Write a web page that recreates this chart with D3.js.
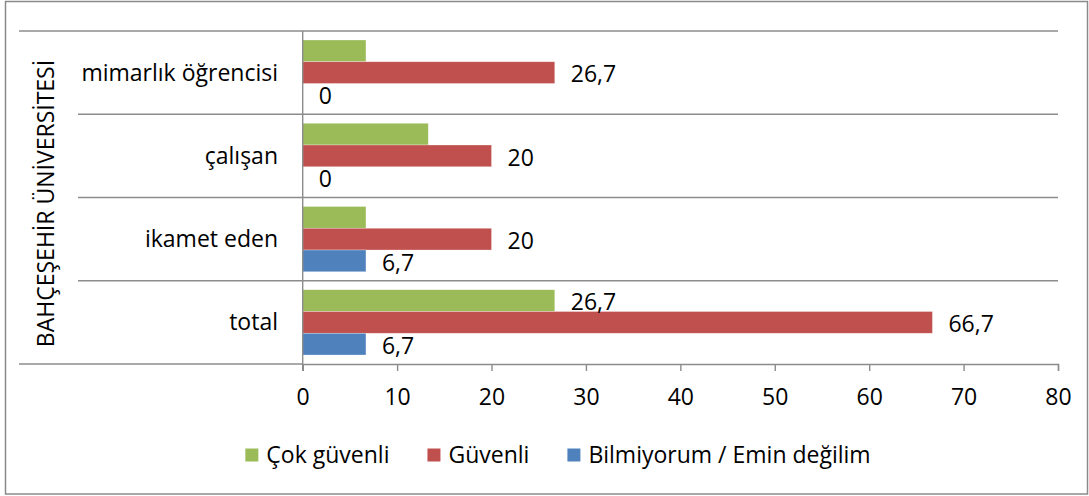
<!DOCTYPE html>
<html>
<head>
<meta charset="utf-8">
<script src="https://cdn.jsdelivr.net/npm/d3@7"></script>
<style>
  html, body { margin: 0; padding: 0; background: #fff; }
  svg { display: block; font-family: "Open Sans", "Noto Sans", sans-serif; }
</style>
</head>
<body>
<svg id="chart" width="1089" height="496"></svg>
<script>
// ---- data ----
const groupTitle = "BAHÇEŞEHİR ÜNİVERSİTESİ";
const categories = ["mimarlık öğrencisi", "çalışan", "ikamet eden", "total"];
const seriesNames = ["Çok güvenli", "Güvenli", "Bilmiyorum / Emin değilim"];
const cokGuvenli = [6.7, 13.3, 6.7, 26.7];
const guvenli = [26.7, 20, 20, 66.7];
const bilmiyorum = [0, 0, 6.7, 6.7];
const cokGuvenliLabelShown = [false, false, false, true];
const guvenliLabelShown = [true, true, true, true];
const bilmiyorumLabelShown = [true, true, true, true];
const xTicks = [0, 10, 20, 30, 40, 50, 60, 70, 80];

const seriesValues = [cokGuvenli, guvenli, bilmiyorum];
const seriesLabelShown = [cokGuvenliLabelShown, guvenliLabelShown, bilmiyorumLabelShown];
const colors = ["#9BBB59", "#C0504D", "#4F81BD"];

// ---- layout ----
const W = 1089, H = 496;
const plotLeft = 302.7, plotRight = 1058, plotTop = 31, plotBottom = 364;
const fontSize = 23;
const gridColor = "#8c8c8c";

const svg = d3.select("#chart");

// outer border
svg.append("rect")
  .attr("x", 5.5).attr("y", 1.5).attr("width", 1082).attr("height", 492.5)
  .attr("fill", "#fff").attr("stroke", "#8a8a8a").attr("stroke-width", 1.5);

const x = d3.scaleLinear().domain([0, 80]).range([plotLeft, plotRight]);
const y = d3.scaleBand().domain(categories).range([plotTop, plotBottom]).paddingInner(0).paddingOuter(0);
const bw = y.bandwidth();
const ySub = d3.scaleBand().domain(seriesNames).range([bw * 0.108, bw * 0.892]).padding(0);

// category separators
const sepG = svg.append("g");
categories.forEach((c, i) => {
  const yy = y(c);
  sepG.append("line")
    .attr("x1", i === 0 ? 19 : 78).attr("x2", plotRight)
    .attr("y1", yy).attr("y2", yy)
    .attr("stroke", gridColor).attr("stroke-width", 1.4);
});
sepG.append("line")
  .attr("x1", 19).attr("x2", plotLeft)
  .attr("y1", plotBottom).attr("y2", plotBottom)
  .attr("stroke", gridColor).attr("stroke-width", 1.4);

// bars
const rows = [];
seriesNames.forEach((s, si) => {
  categories.forEach((c, ci) => {
    rows.push({ s, si, c, v: seriesValues[si][ci], show: seriesLabelShown[si][ci] });
  });
});

svg.append("g").selectAll("rect")
  .data(rows.filter(d => d.v > 0))
  .join("rect")
  .attr("x", x(0))
  .attr("y", d => y(d.c) + ySub(d.s))
  .attr("width", d => x(d.v) - x(0))
  .attr("height", ySub.bandwidth())
  .attr("fill", d => colors[d.si])
  .attr("stroke", "rgba(255,255,255,0.5)")
  .attr("stroke-width", 0.6);

// x axis
const xAxis = d3.axisBottom(x).tickValues(xTicks).tickSize(7).tickPadding(18)
  .tickFormat(d => String(d));
const ax = svg.append("g").attr("transform", `translate(0,${plotBottom})`).call(xAxis);
ax.select(".domain").attr("stroke", gridColor).attr("stroke-width", 1.4);
ax.selectAll(".tick line").attr("stroke", gridColor).attr("stroke-width", 1.4);
ax.selectAll(".tick text")
  .attr("font-size", fontSize).attr("fill", "#000")
  .attr("font-family", "'Open Sans', sans-serif");

// y axis line
svg.append("line")
  .attr("x1", plotLeft).attr("x2", plotLeft)
  .attr("y1", plotTop).attr("y2", plotBottom + 7)
  .attr("stroke", gridColor).attr("stroke-width", 1.4);

// category labels
svg.append("g").selectAll("text")
  .data(categories)
  .join("text")
  .attr("x", 278)
  .attr("y", d => y(d) + bw / 2 + 8)
  .attr("text-anchor", "end")
  .attr("font-size", fontSize)
  .attr("fill", "#000")
  .text(d => d);

// group title (rotated)
svg.append("text")
  .attr("transform", `translate(54,${(plotTop + plotBottom) / 2 + 6}) rotate(-90)`)
  .attr("text-anchor", "middle")
  .attr("font-size", fontSize)
  .attr("fill", "#000")
  .text(groupTitle);

// data labels
const fmt = v => String(v).replace(".", ",");
svg.append("g").selectAll("text")
  .data(rows.filter(d => d.show))
  .join("text")
  .attr("x", d => x(d.v) + 16)
  .attr("y", d => y(d.c) + ySub(d.s) + ySub.bandwidth() / 2)
  .attr("dy", "0.42em")
  .attr("font-size", fontSize)
  .attr("fill", "#000")
  .text(d => fmt(d.v));

// legend
const legendG = svg.append("g");
const sq = 13, gapSqText = 8, gapItems = 38;
let cx = 0;
seriesNames.forEach((s, i) => {
  const g = legendG.append("g");
  g.append("rect").attr("x", 0).attr("y", -sq / 2).attr("width", sq).attr("height", sq).attr("fill", colors[i]);
  const t = g.append("text").attr("x", sq + gapSqText).attr("dy", "0.36em")
    .attr("font-size", fontSize).attr("fill", "#000").text(s);
  const w = sq + gapSqText + t.node().getComputedTextLength();
  g.attr("transform", `translate(${cx},0)`);
  cx += w + gapItems;
});
const totalW = cx - gapItems;
legendG.attr("transform", `translate(${558 - totalW / 2},455)`);
</script>
</body>
</html>
